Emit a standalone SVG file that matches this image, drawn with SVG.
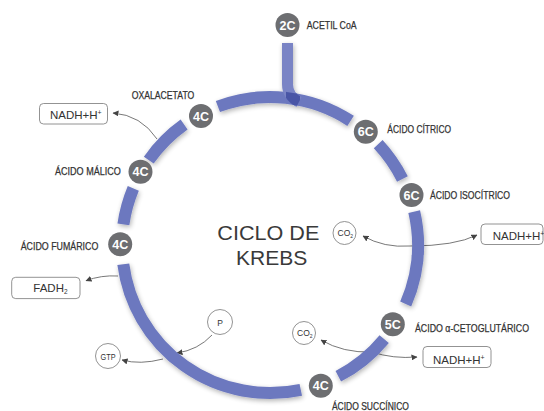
<svg xmlns="http://www.w3.org/2000/svg" width="544" height="411" viewBox="0 0 544 411">
<defs>
<style>
.ring{fill:none;stroke:#6c78bf;stroke-width:12;stroke-linecap:butt}
.node circle{fill:#6d6e71}
.node text{fill:#fff;font-family:"Liberation Sans",Arial,sans-serif;font-weight:bold;font-size:12.5px;text-anchor:middle}
.lbl{fill:#333;stroke:#333;stroke-width:0.25;font-family:"Liberation Sans",Arial,sans-serif;font-size:10.5px;text-anchor:middle}
.big{fill:#3a3a3a;font-family:"Liberation Sans",Arial,sans-serif;font-size:21px}
.box{fill:#fff;stroke:#777;stroke-width:0.8}
.btxt{fill:#333;font-family:"Liberation Sans",Arial,sans-serif;font-size:11.5px}
.stxt{fill:#333;font-family:"Liberation Sans",Arial,sans-serif;font-size:8.5px}
.con{fill:none;stroke:#555;stroke-width:0.8}
</style>
<marker id="ah" viewBox="0 0 6 6" refX="5.5" refY="3" markerWidth="6" markerHeight="6" markerUnits="userSpaceOnUse" orient="auto">
<path d="M0,0 L6,3 L0,6 z" fill="#444"/>
</marker>
<filter id="sh" x="-10%" y="-10%" width="120%" height="120%">
<feGaussianBlur in="SourceAlpha" stdDeviation="2.5"/>
<feOffset dx="1" dy="2" result="b"/>
<feComponentTransfer><feFuncA type="linear" slope="0.3"/></feComponentTransfer>
<feMerge><feMergeNode/><feMergeNode in="SourceGraphic"/></feMerge>
</filter>
<mask id="mk"><path d="M217.9,106.5 A148,148 0 0 1 350.6,120.9" stroke="#fff" stroke-width="12" fill="none"/></mask>
</defs>
<rect width="544" height="411" fill="#fff"/>

<g id="connectors">
<path class="con" d="M157,139 Q141,115 113,113" marker-end="url(#ah)"/>
<path class="con" d="M118,276 Q101,275 86,280.7" marker-end="url(#ah)"/>
<path class="con" d="M410,246 Q384,248 363,236" marker-end="url(#ah)"/>
<path class="con" d="M410,246 Q455,246 477,235" marker-end="url(#ah)"/>
<path class="con" d="M372,352 Q343,353 321,340" marker-end="url(#ah)"/>
<path class="con" d="M372,352 Q393,359 417,357" marker-end="url(#ah)"/>
<path class="con" d="M212,335 Q198,350 177,353" marker-end="url(#ah)"/>
<path class="con" d="M163,359 Q140,365 122,360" marker-end="url(#ah)"/>
</g>

<g id="ring" filter="url(#sh)">
<path class="ring" d="M217.9,106.5 A148,148 0 0 1 350.6,120.9"/>
<path class="ring" d="M378.2,144.1 A148,148 0 0 1 402.4,179.0"/>
<path class="ring" d="M414.2,211.7 A148,148 0 0 1 405.7,304.0"/>
<path class="ring" d="M384.2,339.1 A148,148 0 0 1 338.3,376.3"/>
<path class="ring" d="M300.8,389.8 A148,148 0 0 1 123.3,264.3"/>
<path class="ring" d="M123.4,224.4 A148,148 0 0 1 133.3,188.4"/>
<path class="ring" d="M148.8,160.1 A148,148 0 0 1 184.1,124.5"/>
<path d="M287.5,43 L287.5,84 Q287.5,96 299,102" fill="none" stroke="#7a84c5" stroke-width="11"/>
<path d="M287.5,43 L287.5,84 Q287.5,96 299,102" fill="none" stroke="#4a55a6" stroke-width="11" mask="url(#mk)"/>
</g>

<g id="n-acetil" class="node"><circle cx="287.5" cy="25" r="12"/><text x="287.5" y="29.5">2C</text></g>
<text class="lbl" x="331.7" y="29.3" textLength="50" lengthAdjust="spacingAndGlyphs">ACETIL CoA</text>

<g id="n-oxal" class="node"><circle cx="201" cy="116" r="12"/><text x="201" y="120.5">4C</text></g>
<text class="lbl" x="163" y="99" textLength="62.6" lengthAdjust="spacingAndGlyphs">OXALACETATO</text>

<g id="n-citrico" class="node"><circle cx="365.8" cy="131.7" r="12"/><text x="365.8" y="136.2">6C</text></g>
<text class="lbl" x="419.2" y="133.3" textLength="63.7" lengthAdjust="spacingAndGlyphs">ÁCIDO CÍTRICO</text>

<g id="n-isocitrico" class="node"><circle cx="411.5" cy="195" r="12"/><text x="411.5" y="199.5">6C</text></g>
<text class="lbl" x="470" y="199" textLength="80" lengthAdjust="spacingAndGlyphs">ÁCIDO ISOCÍTRICO</text>

<g id="n-ceto" class="node"><circle cx="392.8" cy="324.2" r="12"/><text x="392.8" y="328.7">5C</text></g>
<text class="lbl" x="472" y="331.7" font-size="9" textLength="114" lengthAdjust="spacingAndGlyphs">ÁCIDO α-CETOGLUTÁRICO</text>

<g id="n-succ" class="node"><circle cx="320.8" cy="385.8" r="12"/><text x="320.8" y="390.3">4C</text></g>
<text class="lbl" x="370.4" y="410" textLength="77" lengthAdjust="spacingAndGlyphs">ÁCIDO SUCCÍNICO</text>

<g id="n-fum" class="node"><circle cx="120.2" cy="244.2" r="12"/><text x="120.2" y="248.7">4C</text></g>
<text class="lbl" x="59.5" y="250" textLength="77.6" lengthAdjust="spacingAndGlyphs">ÁCIDO FUMÁRICO</text>

<g id="n-mal" class="node"><circle cx="140.5" cy="171.7" r="12"/><text x="140.5" y="176.2">4C</text></g>
<text class="lbl" x="87.9" y="175" textLength="65.7" lengthAdjust="spacingAndGlyphs">ÁCIDO MÁLICO</text>

<g id="title">
<text class="big" x="217.3" y="240" textLength="102" lengthAdjust="spacingAndGlyphs">CICLO DE</text>
<text class="big" x="236" y="265" textLength="71.3" lengthAdjust="spacingAndGlyphs">KREBS</text>
</g>

<g id="b-nadh1"><rect class="box" x="39.5" y="103.5" width="68" height="20.5" rx="4"/><text class="btxt" x="50" y="119">NADH+H<tspan font-size="7" dy="-4">+</tspan></text></g>
<g id="b-fadh"><rect class="box" x="11.7" y="277.3" width="68.3" height="21.3" rx="4"/><text class="btxt" x="33.3" y="291.7">FADH<tspan font-size="6.5" dy="2.5">2</tspan></text></g>
<g id="b-nadh2"><rect class="box" x="481" y="224" width="62" height="20.5" rx="4"/><text class="btxt" x="492.7" y="240">NADH+H<tspan font-size="7" dy="-4">+</tspan></text></g>
<g id="b-nadh3"><rect class="box" x="423" y="346.5" width="68" height="21" rx="4"/><text class="btxt" x="433" y="363.5">NADH+H<tspan font-size="7" dy="-4">+</tspan></text></g>

<g id="c-co2a"><circle class="box" cx="344.5" cy="233" r="11.5"/><text class="stxt" x="337.5" y="236">CO<tspan font-size="5" dy="2">2</tspan></text></g>
<g id="c-co2b"><circle class="box" cx="304" cy="333" r="11.5"/><text class="stxt" x="297" y="336">CO<tspan font-size="5" dy="2">2</tspan></text></g>
<g id="c-p"><circle class="box" cx="220" cy="322" r="12.5"/><text class="stxt" x="220" y="325.5" text-anchor="middle" font-size="10">P</text></g>
<g id="c-gtp"><circle class="box" cx="108" cy="356" r="12.5"/><text class="stxt" x="108" y="359.5" text-anchor="middle" font-size="9" textLength="15" lengthAdjust="spacingAndGlyphs">GTP</text></g>
</svg>
